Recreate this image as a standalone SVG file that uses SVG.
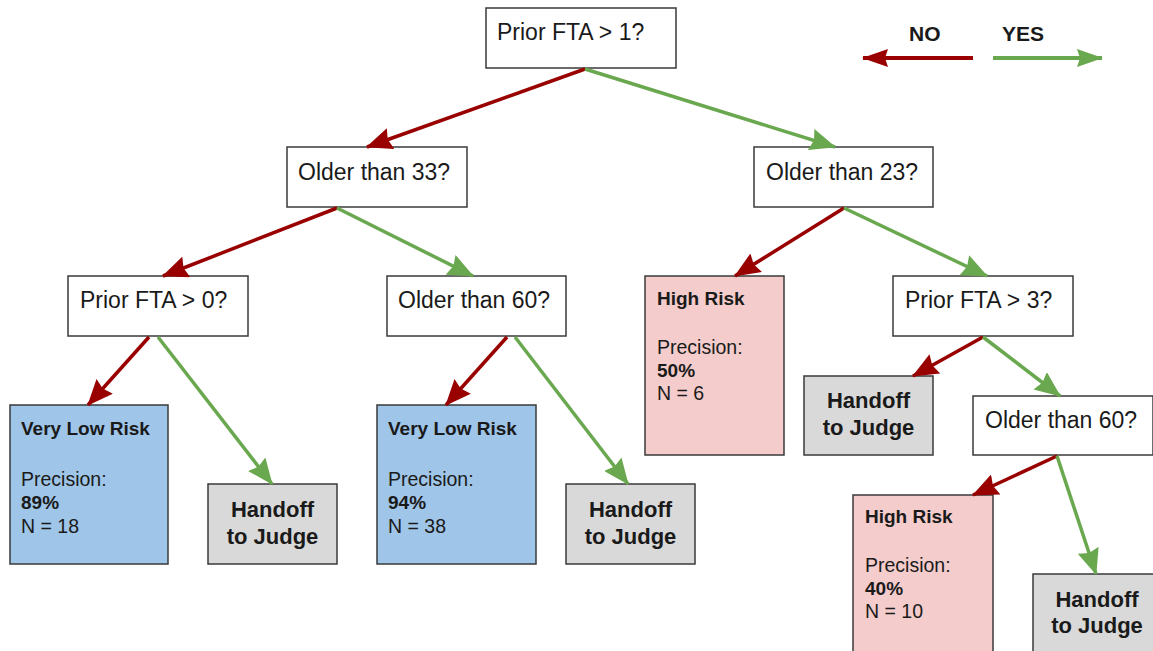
<svg xmlns="http://www.w3.org/2000/svg" width="1153" height="651" viewBox="0 0 1153 651">
<defs>
<style>
.box{stroke:#3a3a3a;stroke-width:1.5}
.q{fill:#fff}
.blue{fill:#9fc5e8}
.pink{fill:#f4cccc}
.gray{fill:#d9d9d9}
text{font-family:"Liberation Sans",Arial,sans-serif;fill:#1a1a1a}
.qt{font-size:23px}
.lt{font-size:19px;font-weight:bold}
.lr{font-size:19.5px}
.ht{font-size:22px;font-weight:bold;text-anchor:middle}
.leg{font-size:21px;font-weight:bold}
.no{stroke:#990000;stroke-width:3.5;fill:none}
.yes{stroke:#6aa84f;stroke-width:3.5;fill:none}
</style>
<marker id="aNo" viewBox="0 0 26 22" refX="25" refY="11" markerWidth="26" markerHeight="22" markerUnits="userSpaceOnUse" orient="auto"><path d="M0,0 L26,11 L0,22 L3,11 z" fill="#990000"/></marker>
<marker id="aYes" viewBox="0 0 26 22" refX="25" refY="11" markerWidth="26" markerHeight="22" markerUnits="userSpaceOnUse" orient="auto"><path d="M0,0 L26,11 L0,22 L3,11 z" fill="#6aa84f"/></marker>
<marker id="lNo" viewBox="0 0 26 18" refX="25" refY="9" markerWidth="26" markerHeight="18" markerUnits="userSpaceOnUse" orient="auto"><path d="M0,0 L26,9 L0,18 L3,9 z" fill="#990000"/></marker>
<marker id="lYes" viewBox="0 0 26 18" refX="25" refY="9" markerWidth="26" markerHeight="18" markerUnits="userSpaceOnUse" orient="auto"><path d="M0,0 L26,9 L0,18 L3,9 z" fill="#6aa84f"/></marker>
</defs>
<rect width="1153" height="651" fill="#fff"/>

<g id="legend">
<text class="leg" x="909" y="41">NO</text>
<text class="leg" x="1002" y="41">YES</text>
<line x1="973" y1="58" x2="863" y2="58" stroke="#990000" stroke-width="4" marker-end="url(#lNo)"/>
<line x1="993" y1="58" x2="1102" y2="58" stroke="#6aa84f" stroke-width="4" marker-end="url(#lYes)"/>
</g>

<g id="n_root"><rect class="box q" x="486" y="8" width="190" height="60"/><text class="qt" x="497" y="40">Prior FTA &gt; 1?</text></g>
<g id="n_older33"><rect class="box q" x="287" y="147" width="180" height="60"/><text class="qt" x="298" y="180">Older than 33?</text></g>
<g id="n_older23"><rect class="box q" x="754" y="147" width="179" height="60"/><text class="qt" x="766" y="180">Older than 23?</text></g>
<g id="n_prior0"><rect class="box q" x="68" y="276" width="180" height="60"/><text class="qt" x="80" y="308">Prior FTA &gt; 0?</text></g>
<g id="n_older60a"><rect class="box q" x="387" y="276" width="179" height="60"/><text class="qt" x="398" y="308">Older than 60?</text></g>
<g id="n_high1"><rect class="box pink" x="645" y="276" width="139" height="179"/>
<text class="lt" x="657" y="305">High Risk</text>
<text class="lr" x="657" y="354">Precision:</text>
<text class="lt" x="657" y="377">50%</text>
<text class="lr" x="657" y="400">N = 6</text></g>
<g id="n_prior3"><rect class="box q" x="893" y="276" width="180" height="60"/><text class="qt" x="905" y="308">Prior FTA &gt; 3?</text></g>
<g id="n_vlr1"><rect class="box blue" x="10" y="405" width="158" height="159"/>
<text class="lt" x="21" y="435">Very Low Risk</text>
<text class="lr" x="21" y="486">Precision:</text>
<text class="lt" x="21" y="509">89%</text>
<text class="lr" x="21" y="533">N = 18</text></g>
<g id="n_hand1"><rect class="box gray" x="208" y="484" width="129" height="80"/>
<text class="ht" x="272.5" y="517">Handoff</text><text class="ht" x="272.5" y="544">to Judge</text></g>
<g id="n_vlr2"><rect class="box blue" x="377" y="405" width="159" height="159"/>
<text class="lt" x="388" y="435">Very Low Risk</text>
<text class="lr" x="388" y="486">Precision:</text>
<text class="lt" x="388" y="509">94%</text>
<text class="lr" x="388" y="533">N = 38</text></g>
<g id="n_hand2"><rect class="box gray" x="566" y="484" width="129" height="80"/>
<text class="ht" x="630.5" y="517">Handoff</text><text class="ht" x="630.5" y="544">to Judge</text></g>
<g id="n_hand3"><rect class="box gray" x="804" y="376" width="129" height="79"/>
<text class="ht" x="868.5" y="408">Handoff</text><text class="ht" x="868.5" y="435">to Judge</text></g>
<g id="n_older60b"><rect class="box q" x="973" y="396" width="180" height="59"/><text class="qt" x="985" y="428">Older than 60?</text></g>
<g id="n_high2"><rect class="box pink" x="853" y="495" width="140" height="170"/>
<text class="lt" x="865" y="523">High Risk</text>
<text class="lr" x="865" y="572">Precision:</text>
<text class="lt" x="865" y="595">40%</text>
<text class="lr" x="865" y="618">N = 10</text></g>
<g id="n_hand4"><rect class="box gray" x="1033" y="574" width="129" height="90"/>
<text class="ht" x="1097" y="607">Handoff</text><text class="ht" x="1097" y="633">to Judge</text></g>

<g id="connectors">
<line class="no" x1="585" y1="69" x2="367" y2="147" marker-end="url(#aNo)"/>
<line class="yes" x1="585" y1="69" x2="835" y2="147" marker-end="url(#aYes)"/>
<line class="no" x1="337" y1="208" x2="163" y2="276" marker-end="url(#aNo)"/>
<line class="yes" x1="337" y1="208" x2="473" y2="276" marker-end="url(#aYes)"/>
<line class="no" x1="844" y1="208" x2="735" y2="276" marker-end="url(#aNo)"/>
<line class="yes" x1="844" y1="208" x2="987" y2="276" marker-end="url(#aYes)"/>
<line class="no" x1="149" y1="337" x2="88" y2="405" marker-end="url(#aNo)"/>
<line class="yes" x1="158" y1="337" x2="272" y2="484" marker-end="url(#aYes)"/>
<line class="no" x1="507" y1="337" x2="446" y2="405" marker-end="url(#aNo)"/>
<line class="yes" x1="515" y1="337" x2="628" y2="484" marker-end="url(#aYes)"/>
<line class="no" x1="983" y1="337" x2="913" y2="376" marker-end="url(#aNo)"/>
<line class="yes" x1="983" y1="337" x2="1060" y2="396" marker-end="url(#aYes)"/>
<line class="no" x1="1057" y1="456" x2="973" y2="495" marker-end="url(#aNo)"/>
<line class="yes" x1="1057" y1="456" x2="1096" y2="574" marker-end="url(#aYes)"/>
</g>
</svg>
